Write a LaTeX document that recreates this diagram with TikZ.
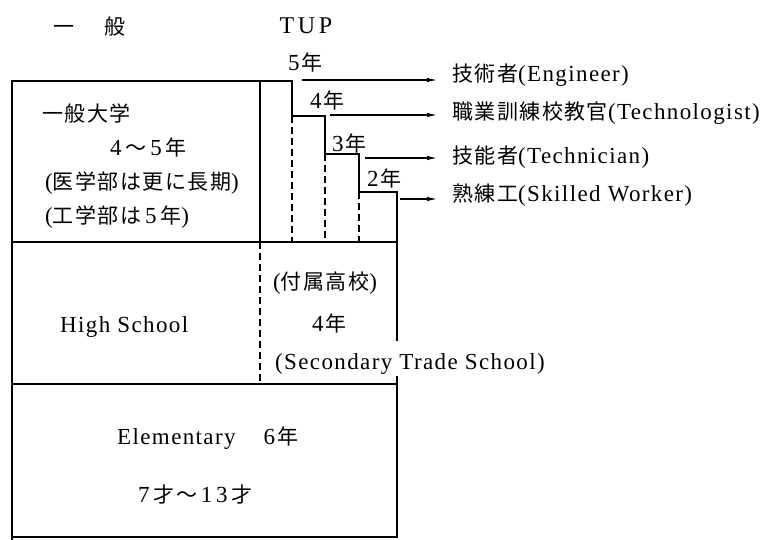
\documentclass[tikz,border=0pt]{standalone}
\usepackage{fontspec}
\setmainfont[LetterSpace=6]{Liberation Serif}
\newfontfamily\jp[Scale=0.913,LetterSpace=7]{Noto Sans CJK JP}
\usetikzlibrary{arrows.meta}
\tikzset{
  wall/.style={line width=1.8pt, line cap=rect},
  dashwall/.style={line width=1.8pt, dash pattern=on 7pt off 4pt},
  flow/.style={line width=1.1pt, -{Latex[length=10pt,width=4.5pt]}},
  lbl/.style={inner sep=0pt, font=\fontsize{23}{27}\selectfont},
  lblw/.style={lbl, anchor=west},
}
\begin{document}
\begin{tikzpicture}[x=1pt,y=-1pt]
\useasboundingbox (0,0) rectangle (772,539);
\fill[white] (0,0) rectangle (772,539);

% headers
\node[lblw] (ippan) at (53,27) {\jp 一\hspace{30pt}般};
\node[lbl, font=\fontsize{24}{28}\selectfont\addfontfeature{LetterSpace=15}] (tup) at (306,26) {TUP};

% frame
\draw[wall] (12,539) -- (12,81) -- (292,81) -- (292,116) -- (325,116) -- (325,154)
  -- (359,154) -- (359,192) -- (397,192) -- (397,340);
\draw[wall] (260,81) -- (260,242);
\draw[wall] (12,242) -- (397,242);
\draw[wall] (12,384) -- (397,384);
\draw[wall] (397,377) -- (397,537) -- (12,537);
\draw[dashwall] (292,116) -- (292,242);
\draw[dashwall] (325,154) -- (325,242);
\draw[dashwall] (359,192) -- (359,242);
\draw[dashwall] (260,242) -- (260,384);

% university box
\node[lblw] (univ) at (42,113) {\jp 一般大学};
\node[lblw] (univy) at (110,147) {4\,{\jp ～}\,5\,{\jp 年}};
\node[lblw] (med) at (45,183) {({\jp 医学部は更に長期})};
\node[lblw] (engf) at (45,217) {({\jp 工学部は}\,5\,{\jp 年})};

% year steps
\node[lblw] (y5) at (288,62) {5\kern2pt{\jp 年}};
\node[lblw] (y4) at (310,100) {4\kern2pt{\jp 年}};
\node[lblw] (y3) at (332,143) {3\kern2pt{\jp 年}};
\node[lblw] (y2) at (367,178) {2\kern2pt{\jp 年}};

% outcomes
\node[lblw] (engineer) at (452,75) {{\jp 技術者}(Engineer)};
\node[lblw] (techno) at (452,113) {{\jp 職業訓練校教官}(Technologist)};
\node[lblw] (techni) at (452,157) {{\jp 技能者}(Technician)};
\node[lblw] (skilled) at (452,195) {{\jp 熟練工}(Skilled Worker)};

% arrows
\coordinate (s5) at (302,80);  \coordinate (e5) at (437,80);
\coordinate (s4) at (330,115); \coordinate (e4) at (437,115);
\coordinate (s3) at (365,158); \coordinate (e3) at (437,158);
\coordinate (s2) at (400,199); \coordinate (e2) at (437,199);
\draw[flow] (s5) -- (e5);
\draw[flow] (s4) -- (e4);
\draw[flow] (s3) -- (e3);
\draw[flow] (s2) -- (e2);

% high school
\node[lblw] (hs) at (60,327) {High School};
\node[lblw] (fuzoku) at (273,283) {({\jp 付属高校})};
\node[lblw] (hsy) at (312,323) {4\kern2pt{\jp 年}};
\node[lblw] (sts) at (275,364) {(Secondary Trade School)};

% elementary
\node[lblw] (elem) at (117,438) {Elementary\hspace{28pt}6\kern2pt{\jp 年}};
\node[lblw] (age) at (138,495) {7\,{\jp 才～}\,1\,3\,{\jp 才}};
\end{tikzpicture}
\end{document}
